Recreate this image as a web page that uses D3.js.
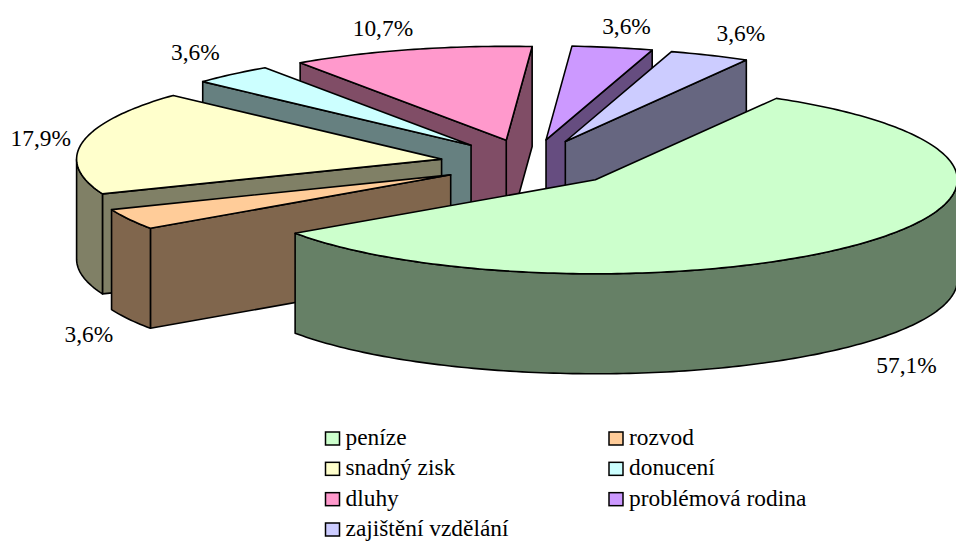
<!DOCTYPE html>
<html>
<head>
<meta charset="utf-8">
<script src="https://cdn.jsdelivr.net/npm/d3@7"></script>
<style>
html,body{margin:0;padding:0;background:#fff;}
svg{display:block;}
text{font-family:"Liberation Serif","Times New Roman",serif;fill:#000;}
</style>
</head>
<body>
<svg id="chart" width="956" height="541"></svg>
<script>
// Data
const categories = ["peníze","rozvod","snadný zisk","donucení","dluhy","problémová rodina","zajištění vzdělání"];
const shares = [57.1,3.6,17.9,3.6,10.7,3.6,3.6];
const topColors = ["#CCFFCC","#FFCC99","#FFFFCC","#CCFFFF","#FF99CC","#CC99FF","#CCCCFF"];
const wallColors = ["#668066","#80664D","#808066","#668080","#804D66","#664D80","#666680"];

// Layout of the projected pie
const W = 956, H = 541;
const cx = 529.6, cy = 163.5, rxLeft = 365, rxRight = 362, ry = 94, depth = 100, explodeX = 89.5, explodeY = 24;
const labelNudge = [[45,22],[-40,15],[-42,-4],[-37,-22],[-28,-22],[14,-22],[31,-22]];

const svg = d3.select("#chart");
const rad = d3.scaleLinear().domain([0, 360]).range([0, 2 * Math.PI]);
const pie = d3.pie().sort(null).startAngle(rad(30)).endAngle(rad(390));
const line = d3.line();

const slices = pie(shares).map((d, i) => {
  const mid = (d.startAngle + d.endAngle) / 2;
  const ax = cx + explodeX * Math.sin(mid);
  const ay = cy - explodeY * Math.cos(mid);
  const at = a => {
    const sx = Math.sin(a);
    return [ax + (sx < 0 ? rxLeft : rxRight) * sx, ay - ry * Math.cos(a)];
  };
  return {i, d, mid, ax, ay, at};
});
const down = p => [p[0], p[1] + depth];
const arcPts = (s, a0, a1) => {
  const n = Math.max(2, Math.ceil((a1 - a0) / rad(1)));
  return d3.range(n + 1).map(k => s.at(a0 + (a1 - a0) * k / n));
};
const stroke = sel => sel.attr("stroke", "#000").attr("stroke-width", 1.6).attr("stroke-linejoin", "round");

// Back to front
const order = slices.slice().sort((p, q) => d3.descending(Math.cos(p.mid), Math.cos(q.mid)));
order.forEach(s => {
  const g = svg.append("g");
  const a0 = s.d.startAngle, a1 = s.d.endAngle;
  const apex = [s.ax, s.ay];
  const wall = pts => g.append("path").attr("d", line(pts) + "Z").attr("fill", wallColors[s.i]).call(stroke);
  if (Math.sin(a1) > 0) wall([apex, s.at(a1), down(s.at(a1)), down(apex)]);
  if (Math.sin(a0) < 0) wall([apex, s.at(a0), down(s.at(a0)), down(apex)]);
  // outer wall: the part of the rim that faces the viewer
  for (const base of [0, 2 * Math.PI]) {
    const f0 = Math.max(a0, base + Math.PI / 2), f1 = Math.min(a1, base + 3 * Math.PI / 2);
    if (f1 > f0) {
      const pts = arcPts(s, f0, f1);
      wall(pts.concat(pts.slice().reverse().map(down)));
    }
  }
  g.append("path")
    .attr("d", line([apex].concat(arcPts(s, a0, a1))) + "Z")
    .attr("fill", topColors[s.i]).call(stroke);
});

// Data labels
const fmt = v => d3.format(".1f")(v).replace(".", ",") + "%";
slices.forEach(s => {
  const rim = s.at(s.mid);
  const p = Math.cos(s.mid) < 0 ? down(rim) : rim;
  svg.append("text")
    .attr("x", p[0] + labelNudge[s.i][0]).attr("y", p[1] + labelNudge[s.i][1])
    .attr("text-anchor", "middle").attr("dominant-baseline", "central")
    .attr("font-size", 23.4).text(fmt(shares[s.i]));
});

// Legend
const colX = d3.scaleOrdinal().domain([0, 1]).range([325, 608.5]);
const rowY = d3.scaleLinear().domain([0, 3]).range([445, 536]);
categories.forEach((c, i) => {
  const col = i % 2, row = Math.floor(i / 2);
  const g = svg.append("g").attr("transform", `translate(${colX(col)},${rowY(row)})`);
  g.append("rect").attr("x", 0.5).attr("y", -13).attr("width", 14).attr("height", 13)
    .attr("fill", topColors[i]).attr("stroke", "#000").attr("stroke-width", 1.5);
  g.append("text").attr("x", 20.5).attr("y", 0).attr("font-size", 23.4).text(c);
});
</script>
</body>
</html>
